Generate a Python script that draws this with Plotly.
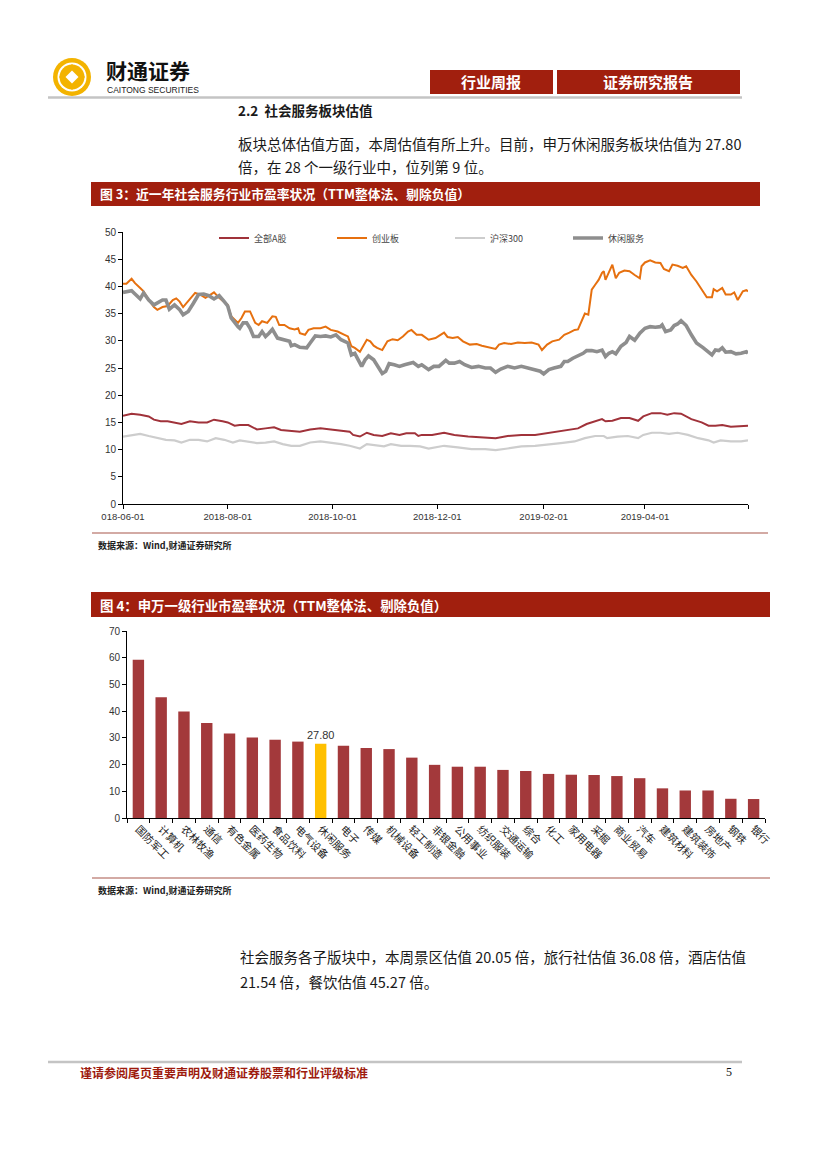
import plotly.graph_objects as go
from datetime import date, timedelta

W, H = 827, 1170
def X(p): return p / W
def Y(p): return 1 - p / H

START = date(2018, 6, 1)

# ---------------- Chart 3 data: (day offset from 2018-06-01, PE) ----------------
allA = [(0,16.2),(5,16.6),(10,16.4),(15,16.1),(18,15.5),(22,15.2),(26,15.2),(30,15.0),(34,14.7),(39,15.2),
        (44,15.0),(49,15.0),(53,15.5),(58,15.2),(61,15.0),(65,14.4),(68,14.5),(73,14.5),(78,13.7),(83,13.9),
        (88,14.1),(92,13.6),(98,13.5),(103,13.3),(109,13.7),(115,13.9),(121,13.7),(127,13.5),(132,13.3),(134,12.7),
        (138,12.4),(142,13.1),(146,12.7),(151,12.5),(156,13.0),(161,12.7),(165,13.0),(170,13.0),(172,12.5),(174,12.7),
        (180,12.7),(187,13.1),(193,12.7),(201,12.4),(209,12.3),(217,12.1),(224,12.5),(232,12.7),(240,12.7),(246,13.0),
        (253,13.3),(259,13.6),(265,13.9),(270,14.7),(275,15.2),(279,15.6),(281,15.2),(285,15.3),(290,15.8),(295,15.8),
        (300,15.3),(303,16.1),(308,16.7),(313,16.7),(317,16.4),(321,16.7),(325,16.6),(331,15.6),(337,15.0),(341,14.4),
        (345,14.4),(349,14.5),(354,14.2),(360,14.4),(364,14.4)]

cyb = [(0,40.5),(2,40.5),(5,41.4),(7,40.6),(10,39.7),(12,39.1),(15,37.5),(18,36.2),(20,35.7),(23,36.2),
       (26,36.4),(29,37.5),(31,37.8),(33,37.2),(35,36.2),(37,36.9),(39,37.8),(42,38.8),(45,38.5),(48,37.9),
       (51,38.5),(53,38.9),(56,37.9),(59,37.2),(61,36.6),(63,34.5),(65,33.9),(67,33.3),(69,34.2),(71,35.4),
       (74,35.4),(77,33.3),(79,32.9),(81,33.6),(84,33.3),(87,34.5),(89,34.4),(91,32.9),(94,32.9),(97,32.3),
       (100,32.1),(102,32.3),(103,31.4),(106,31.1),(108,32.0),(111,32.3),(115,32.3),(118,32.6),(121,32.0),(125,31.7),
       (129,31.1),(131,30.8),(133,29.0),(135,28.7),(138,28.0),(140,29.0),(142,30.2),(144,29.9),(146,29.1),(148,28.7),
       (151,28.3),(154,29.9),(157,30.3),(160,30.1),(163,30.8),(166,31.7),(168,32.0),(171,31.1),(174,31.1),(178,30.2),
       (182,30.5),(184,30.9),(187,31.5),(189,30.7),(192,30.5),(195,30.7),(198,29.9),(202,29.3),(206,29.4),(209,29.1),
       (213,28.8),(217,28.5),(219,29.3),(222,29.6),(226,29.4),(230,29.7),(234,29.6),(238,29.7),(242,29.3),(244,28.3),
       (247,29.3),(250,29.9),(254,30.2),(257,31.1),(260,31.5),(263,32.0),(265,32.1),(267,33.6),(269,35.0),(271,34.8),
       (272,36.9),(273,39.4),(275,40.3),(277,41.2),(279,42.5),(280,42.8),(281,41.2),(283,42.5),(285,44.0),(287,41.5),
       (289,42.5),(292,42.9),(295,42.8),(298,42.1),(301,41.5),(302,43.7),(304,44.4),(307,44.8),(310,44.4),(313,44.3),
       (315,43.2),(318,42.8),(320,44.0),(323,43.8),(326,43.4),(328,43.7),(331,42.1),(334,40.9),(337,39.4),(340,38.0),
       (343,38.0),(344,39.5),(346,39.1),(349,39.7),(351,38.5),(354,38.5),(356,38.9),(358,37.5),(361,39.1),(363,39.3),
       (364,39.1)]

hs300 = [(0,12.4),(5,12.7),(10,12.9),(15,12.5),(20,12.1),(25,11.8),(30,11.7),(34,11.3),(39,11.8),(44,11.8),
         (49,11.5),(54,12.1),(59,11.8),(64,11.3),(68,11.7),(73,11.5),(78,11.2),(83,11.3),(88,11.5),(93,11.0),
         (98,10.7),(103,10.7),(109,11.3),(115,11.5),(121,11.3),(127,11.0),(132,10.7),(138,10.2),(142,11.0),(148,10.7),
         (152,10.6),(156,11.0),(162,10.7),(167,10.7),(173,10.6),(178,10.2),(187,10.7),(195,10.4),(203,10.1),(211,10.1),
         (217,9.9),(224,10.2),(232,10.6),(240,10.7),(248,10.9),(255,11.2),(263,11.5),(269,12.1),(275,12.5),(280,12.5),
         (282,12.1),(288,12.4),(294,12.5),(300,12.1),(303,12.7),(308,13.1),(313,13.1),(318,12.9),(323,13.1),(329,12.7),
         (335,12.1),(341,11.7),(344,11.3),(348,11.7),(354,11.5),(360,11.5),(364,11.7)]

leisure = [(0,38.9),(5,39.2),(7,38.6),(10,37.7),(12,38.8),(15,37.5),(18,36.6),(20,36.9),(23,37.5),(25,37.5),
           (27,35.8),(30,36.6),(33,35.7),(35,34.8),(38,35.4),(41,36.9),(44,38.5),(47,38.6),(50,38.3),(53,37.7),
           (56,38.3),(59,37.2),(61,36.4),(63,34.2),(65,33.3),(67,32.6),(68,32.3),(70,33.3),(72,33.3),(74,32.3),
           (76,30.8),(79,30.8),(81,31.7),(83,30.8),(85,31.4),(87,32.1),(90,30.5),(94,30.2),(97,29.9),(98,29.1),
           (100,29.3),(103,28.8),(107,28.7),(109,29.6),(112,30.9),(115,30.8),(118,30.9),(121,30.7),(124,31.1),(127,30.2),
           (131,29.6),(133,27.4),(135,27.7),(137,26.5),(139,25.3),(141,26.5),(143,27.2),(146,26.5),(149,25.0),(151,24.0),
           (153,24.4),(155,25.8),(158,25.6),(161,25.3),(164,25.6),(167,25.9),(169,26.0),(172,25.3),(174,25.6),(178,24.7),
           (181,25.3),(184,25.3),(188,26.4),(190,25.9),(193,25.9),(196,26.2),(199,25.6),(203,25.1),(207,25.3),(211,25.0),
           (214,25.0),(217,24.2),(220,24.8),(224,25.3),(228,25.0),(232,25.3),(236,25.0),(240,24.7),(243,24.4),(245,23.9),
           (248,24.7),(251,25.0),(255,25.3),(257,26.2),(259,26.2),(262,26.8),(265,27.2),(268,27.7),(270,28.2),(273,28.2),
           (276,28.0),(279,28.3),(281,27.1),(283,27.7),(285,28.0),(287,27.6),(290,29.0),(293,29.7),(295,30.8),(298,30.1),
           (301,31.4),(304,32.3),(307,32.6),(310,32.5),(313,32.6),(314,32.9),(316,31.7),(319,32.0),(321,32.8),(323,33.1),
           (325,33.7),(328,32.8),(331,31.1),(334,29.6),(338,28.7),(341,28.0),(343,27.4),(345,28.3),(347,28.2),(349,28.7),
           (351,27.9),(354,28.0),(357,27.6),(360,27.7),(363,28.0),(364,27.7)]

line_names = ["全部A股", "创业板", "沪深300", "休闲服务"]
x_tick_dates = ["2018-06-01", "2018-08-01", "2018-10-01", "2018-12-01", "2019-02-01", "2019-04-01", "2019-05-31"]
x_tick_text = ["018-06-01", "2018-08-01", "2018-10-01", "2018-12-01", "2019-02-01", "2019-04-01", ""]

# ---------------- Chart 4 data ----------------
industries = ["国防军工", "计算机", "农林牧渔", "通信", "有色金属", "医药生物", "食品饮料", "电气设备",
              "休闲服务", "电子", "传媒", "机械设备", "轻工制造", "非银金融", "公用事业", "纺织服装",
              "交通运输", "综合", "化工", "家用电器", "采掘", "商业贸易", "汽车", "建筑材料",
              "建筑装饰", "房地产", "钢铁", "银行"]
industry_pe = [59.2, 45.2, 39.9, 35.6, 31.6, 30.1, 29.3, 28.6, 27.80, 27.0, 26.2, 25.8, 22.6, 19.9,
               19.2, 19.2, 18.0, 17.6, 16.5, 16.2, 16.1, 15.7, 14.9, 11.1, 10.3, 10.3, 7.2, 7.1]
highlight = "休闲服务"

CJK = "Noto Sans CJK SC"
DARKRED = "#A11F0E"

def to_dates(pairs):
    return [START + timedelta(days=d) for d, _ in pairs], [v for _, v in pairs]

fig = go.Figure()
styles = [("#A0323A", 2.0), ("#E6700F", 2.0), ("#CDCDCD", 2.2), ("#8E8E8E", 3.6)]
for name, series, (col, wd) in zip(line_names, [allA, cyb, hs300, leisure], styles):
    xs, ys = to_dates(series)
    fig.add_trace(go.Scatter(x=xs, y=ys, mode="lines", name=name,
                             line=dict(color=col, width=wd), xaxis="x", yaxis="y"))

bar_colors = ["#FFC000" if c == highlight else "#A3393B" for c in industries]
bar_text = [f"{v:.2f}" if c == highlight else "" for c, v in zip(industries, industry_pe)]
fig.add_trace(go.Bar(x=industries, y=industry_pe, marker=dict(color=bar_colors, line=dict(width=0)),
                     text=bar_text, textposition="outside", cliponaxis=False, constraintext="none",
                     textfont=dict(family="Arial", size=11, color="#333333"),
                     showlegend=False, xaxis="x2", yaxis="y2"))

tickfont = dict(family="Arial", size=10, color="#333333")
fig.update_layout(
    width=W, height=H, autosize=False,
    margin=dict(l=0, r=0, t=0, b=0, autoexpand=False),
    paper_bgcolor="white", plot_bgcolor="white",
    bargap=0.5,
    showlegend=True,
    legend=dict(orientation="h", x=X(214), y=Y(238), xanchor="left", yanchor="middle",
                font=dict(family=CJK, size=9, color="#444444"), bgcolor="rgba(0,0,0,0)",
                entrywidth=73, entrywidthmode="pixels", itemwidth=30, tracegroupgap=0),
    xaxis=dict(domain=[X(123), X(748)], anchor="y", type="date",
               range=["2018-06-01", "2019-05-31"], tickvals=x_tick_dates, ticktext=x_tick_text,
               ticks="outside", ticklen=4, tickcolor="black", showline=True, linecolor="black", linewidth=1,
               showgrid=False, zeroline=False, tickfont=dict(family="Arial", size=9.5, color="#333333")),
    yaxis=dict(domain=[Y(504), Y(232)], anchor="x", range=[0, 50], dtick=5,
               ticks="outside", ticklen=4, tickcolor="black", showline=True, linecolor="black", linewidth=1,
               showgrid=False, zeroline=False, tickfont=tickfont),
    xaxis2=dict(domain=[X(127), X(765)], anchor="y2", type="category", tickangle=45,
                ticks="outside", tickson="boundaries", ticklen=4, tickcolor="black",
                showline=True, linecolor="black", linewidth=1, showgrid=False,
                tickfont=dict(family=CJK, size=10.5, color="#222222")),
    yaxis2=dict(domain=[Y(818), Y(631)], anchor="x2", range=[0, 70], dtick=10,
                ticks="outside", ticklen=4, tickcolor="black", showline=True, linecolor="black", linewidth=1,
                showgrid=False, zeroline=False, tickfont=tickfont),
)

shapes = []
def rect(x0, y0, x1, y1, fill):
    shapes.append(dict(type="rect", xref="paper", yref="paper", x0=X(x0), x1=X(x1), y0=Y(y1), y1=Y(y0),
                       fillcolor=fill, line=dict(width=0), layer="below"))
def hline(x0, x1, y, color, width):
    shapes.append(dict(type="line", xref="paper", yref="paper", x0=X(x0), x1=X(x1), y0=Y(y), y1=Y(y),
                       line=dict(color=color, width=width)))
def circle(cx, cy, r, fill):
    shapes.append(dict(type="circle", xref="paper", yref="paper", x0=X(cx - r), x1=X(cx + r),
                       y0=Y(cy + r), y1=Y(cy - r), fillcolor=fill, line=dict(width=0)))
def diamond(cx, cy, r, fill):
    path = (f"M {X(cx)},{Y(cy - r)} L {X(cx + r)},{Y(cy)} L {X(cx)},{Y(cy + r)} L {X(cx - r)},{Y(cy)} Z")
    shapes.append(dict(type="path", xref="paper", yref="paper", path=path, fillcolor=fill, line=dict(width=0)))

# logo
GOLD = "#F3B300"
circle(72, 77, 19, GOLD)
circle(72, 77, 14.5, "white")
circle(72, 77, 12.5, GOLD)
diamond(72, 77, 13, GOLD)
diamond(72, 77, 6.5, "white")

# header boxes & lines
rect(430, 70, 553, 94, DARKRED)
rect(557, 70, 740, 94, DARKRED)
hline(48, 742, 97.5, "#C4C4C4", 2.5)
rect(91, 182, 760, 206, DARKRED)
hline(92, 768, 533, "#A8574A", 1.2)
rect(91, 592, 770, 617, DARKRED)
hline(92, 770, 878, "#A8574A", 1.2)
hline(48, 742, 1062, "#C4C4C4", 2.5)
fig.update_layout(shapes=shapes)

ann = []
def text(x, y, s, size, color="#1a1a1a", family=CJK, xanchor="left"):
    ann.append(dict(xref="paper", yref="paper", x=X(x), y=Y(y), text=s, showarrow=False,
                    xanchor=xanchor, yanchor="middle", font=dict(family=family, size=size, color=color)))

text(104, 70, "<b>财通证券</b>", 21, "#111111")
text(105, 90, "CAITONG SECURITIES", 8.5, "#222222", "Arial")
text(491, 82, "<b>行业周报</b>", 15, "white", xanchor="center")
text(648, 82, "<b>证券研究报告</b>", 15, "white", xanchor="center")
text(236, 110, "<b>2.2  社会服务板块估值</b>", 13.5)
text(236, 143, "板块总体估值方面，本周估值有所上升。目前，申万休闲服务板块估值为 27.80", 14.5)
text(236, 167, "倍，在 28 个一级行业中，位列第 9 位。", 14.5)
text(98, 194, "<b>图 3：近一年社会服务行业市盈率状况（TTM整体法、剔除负值）</b>", 12.8, "white")
text(96, 545, "<b>数据来源：Wind,财通证券研究所</b>", 9, "#222222")
text(98, 605, "<b>图 4：申万一级行业市盈率状况（TTM整体法、剔除负值）</b>", 13.4, "white")
text(96, 890, "<b>数据来源：Wind,财通证券研究所</b>", 9, "#222222")
text(238, 956, "社会服务各子版块中，本周景区估值 20.05 倍，旅行社估值 36.08 倍，酒店估值", 14.5)
text(238, 981, "21.54 倍，餐饮估值 45.27 倍。", 14.5)
text(78, 1072, "<b>谨请参阅尾页重要声明及财通证券股票和行业评级标准</b>", 12, "#9E1B0E")
text(724, 1072, "5", 12, "#111111", "Liberation Serif")
fig.update_layout(annotations=ann)

fig.write_html("out.html", config={"displayModeBar": False},
               post_script="document.body.style.margin='0';document.body.style.overflow='hidden';")
